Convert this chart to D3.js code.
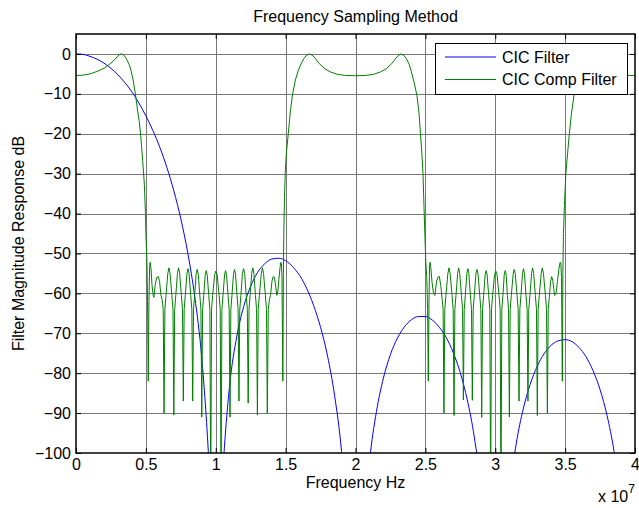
<!DOCTYPE html>
<html><head><meta charset="utf-8">
<script src="https://cdn.jsdelivr.net/npm/d3@7/dist/d3.min.js"></script>
<style>
body{margin:0;background:#fff}
svg{display:block}
text{font-family:"Liberation Sans",Arial,Helvetica,sans-serif;fill:#000}
</style>
</head><body>
<svg id="chart" width="639" height="508"></svg>
<script>
// ---- data ----
const chartTitle = "Frequency Sampling Method";
const xLabel = "Frequency Hz";
const yLabel = "Filter Magnitude Response dB";
const xTicks = [0, 0.5, 1, 1.5, 2, 2.5, 3, 3.5, 4];
const xTickLabels = ["0", "0.5", "1", "1.5", "2", "2.5", "3", "3.5", "4"];
const yTicks = [-100, -90, -80, -70, -60, -50, -40, -30, -20, -10, 0];
const seriesNames = ["CIC Filter", "CIC Comp Filter"];

// CIC Filter (x 1e7 Hz, dB)
const blueFreq = [0,0.05,0.1,0.15,0.2,0.25,0.3,0.35,0.4,0.45,0.5,0.55,0.6,0.65,0.7,0.75,0.8,0.85,0.9,0.95,
  1,1.05,1.1,1.15,1.2,1.25,1.3,1.35,1.4,1.45,1.5,1.55,1.6,1.65,1.7,1.75,1.8,1.85,1.9,1.95,
  2,2.05,2.1,2.15,2.2,2.25,2.3,2.35,2.4,2.45,2.5,2.55,2.6,2.65,2.7,2.75,2.8,2.85,2.9,2.95,
  3,3.05,3.1,3.15,3.2,3.25,3.3,3.35,3.4,3.45,3.5,3.55,3.6,3.65,3.7,3.75,3.8,3.85,3.9,3.95,4];
const blueDb = [0,-0.1,-0.6,-1.3,-2.3,-3.6,-5.2,-7.2,-9.5,-12.3,-15.5,-19.2,-23.4,-28.4,-34.3,-41.3,-49.9,-60.9,-76.2,-101.6,
  -140,-104.9,-82.8,-70.9,-63.3,-58.2,-54.7,-52.6,-51.4,-51.2,-51.8,-53.3,-55.5,-58.7,-63.0,-68.5,-75.7,-85.5,-99.6,-124,
  -140,-125.3,-102.3,-89.6,-81.2,-75.3,-71.2,-68.4,-66.6,-65.8,-65.8,-66.7,-68.5,-71.1,-74.9,-79.9,-86.7,-96.0,-109.7,-133.7,
  -140,-134.2,-110.8,-97.7,-89.0,-82.8,-78.3,-75.1,-73.0,-71.9,-71.6,-72.1,-73.6,-75.9,-79.4,-84.1,-90.6,-99.6,-113.0,-136.7,-140];

// CIC Comp Filter (x 1e7 Hz, dB)
const greenFreq = [0,0.05,0.1,0.15,0.2,0.25,0.28,0.3,0.313,0.325,0.337,0.35,0.365,0.38,0.395,0.41,0.425,0.44,0.453,0.463,0.47,0.477,0.489,0.497,0.502,0.507,0.512,
  0.517,0.522,0.527,0.531,0.536,0.544,0.552,0.558,0.566,0.578,0.589,0.598,0.608,0.616,0.624,
  0.630,0.636,0.644,0.657,0.665,0.673,0.686,0.694,
  0.700,0.706,0.714,0.726,0.734,0.742,0.754,0.762,
  0.768,0.774,0.782,0.794,0.801,0.809,0.821,0.829,
  0.835,0.841,0.849,0.860,0.867,0.875,0.886,0.894,
  0.900,0.906,0.914,0.925,0.932,0.939,0.950,0.958,
  0.964,0.970,0.978,0.992,1.001,1.010,1.024,1.032,
  1.038,1.044,1.052,1.063,1.070,1.077,1.088,1.096,
  1.102,1.108,1.116,1.127,1.134,1.141,1.152,1.160,
  1.166,1.172,1.180,1.191,1.199,1.207,1.218,1.226,
  1.232,1.238,1.246,1.257,1.265,1.273,1.284,1.292,
  1.298,1.304,1.312,1.326,1.334,1.342,1.355,1.363,
  1.369,1.376,1.384,1.392,1.402,1.411,1.420,1.430,1.437,1.444,1.452,1.460,1.466,1.470,1.474,
  1.480,1.484,1.487,1.492,1.497,1.505,1.519,1.535,1.55,1.57,1.59,1.61,1.63,1.65,1.67,1.69,1.71,1.74,1.78,1.82,1.87,1.93,
  2.00,2.07,2.13,2.18,2.22,2.26,2.29,2.31,2.325,2.345,2.365,2.385,2.40,2.42,2.44,2.455,2.465,2.475,2.483,2.49,2.497,2.503,2.510,2.516,
  2.521,2.526,2.530,2.534,2.539,2.547,2.558,2.568,2.580,2.592,2.600,2.610,2.620,2.627,
  2.633,2.639,2.647,2.661,2.669,2.677,2.691,2.699,
  2.705,2.711,2.719,2.731,2.738,2.746,2.758,2.766,
  2.772,2.778,2.786,2.797,2.804,2.811,2.822,2.830,
  2.836,2.842,2.850,2.862,2.869,2.877,2.889,2.897,
  2.903,2.909,2.917,2.928,2.935,2.942,2.953,2.961,
  2.967,2.973,2.981,2.995,3.004,3.013,3.027,3.035,
  3.041,3.047,3.055,3.064,3.071,3.078,3.087,3.095,
  3.101,3.107,3.115,3.128,3.135,3.143,3.156,3.164,
  3.170,3.176,3.184,3.195,3.202,3.209,3.220,3.228,
  3.234,3.240,3.248,3.260,3.267,3.275,3.287,3.295,
  3.301,3.307,3.315,3.329,3.337,3.345,3.359,3.367,
  3.373,3.379,3.387,3.396,3.404,3.413,3.424,3.435,3.445,3.455,3.464,3.469,3.474,
  3.480,3.484,3.488,3.495,3.505,3.53,3.545,3.565,3.59,3.62,3.65,3.67,3.69,3.72,3.76,3.80,3.85,3.90,3.95,4.00];
const greenDb = [-5.4,-5.3,-5.0,-4.4,-3.6,-2.3,-1.3,-0.5,-0.1,0,-0.2,-0.6,-1.5,-2.6,-4.3,-6.8,-10,-14,-17,-20.5,-23.5,-26.7,-32.6,-40,-47,-51,-62,
  -82,-62,-53,-52.2,-53.5,-58,-60.5,-61,-58,-56,-55.8,-57,-60.5,-61.5,-64,
  -90,-64,-60.5,-55,-53.6,-55,-60.5,-64,
  -90.5,-64,-60.5,-55,-53.6,-55,-60.5,-64,
  -87,-64,-60.5,-55,-53.8,-55,-60.5,-64,
  -87,-64,-60.5,-55,-54,-55.2,-60.5,-64,
  -91,-64,-60.5,-55.2,-54.3,-55.4,-60.5,-64,
  -110,-64,-60.5,-55.3,-54.4,-55.3,-60.5,-64,
  -110,-64,-60.5,-55.4,-54.3,-55.2,-60.5,-64,
  -91,-64,-60.5,-55.2,-54,-55,-60.5,-64,
  -87,-64,-60.5,-55,-53.8,-55,-60.5,-64,
  -87.5,-64,-60.5,-55,-53.6,-55,-60.5,-64,
  -90.5,-64,-60.5,-55,-53.6,-55,-60.5,-64,
  -90,-64,-61.5,-60.5,-57,-55.8,-56,-58.5,-60.5,-59.5,-56.5,-53.5,-52.2,-52.5,-56,
  -82,-55,-45,-36,-30,-25,-20,-14,-10,-6.5,-4.2,-2.5,-1.2,-0.3,0,-0.3,-1.0,-2.4,-3.7,-4.5,-5.1,-5.4,
  -5.45,-5.4,-5.1,-4.5,-3.7,-2.4,-1.0,-0.3,0,-0.3,-1.2,-2.7,-4.5,-7.2,-10.5,-15,-20,-25,-30,-38,-46,-52,-56,-64,
  -82,-62,-53,-52.2,-53.5,-57,-60,-60.5,-57,-55.8,-55.8,-58,-61.5,-64,
  -90,-64,-60.5,-55,-53.6,-55,-60.5,-64,
  -90.6,-64,-60.5,-55,-53.6,-55,-60.5,-64,
  -86.7,-64,-60.5,-55,-53.8,-55,-60.5,-64,
  -86.8,-64,-60.5,-55,-54,-55.2,-60.5,-64,
  -91.1,-64,-60.5,-55.2,-54.3,-55.4,-60.5,-64,
  -110,-64,-60.5,-55.3,-54.4,-55.3,-60.5,-64,
  -110,-64,-60.5,-55.4,-54.3,-55.2,-60.5,-64,
  -91,-64,-60.5,-55.2,-54,-55,-60.5,-64,
  -87,-64,-60.5,-55,-53.8,-55,-60.5,-64,
  -87,-64,-60.5,-55,-53.6,-55,-60.5,-64,
  -90.6,-64,-60.5,-55,-53.6,-55,-60.5,-64,
  -90,-64,-61,-57,-55.8,-57,-60.5,-60,-57,-54,-52.2,-52.3,-56,
  -82,-55,-45,-38,-30,-20,-15,-10,-6,-2.8,-0.6,0,-0.3,-1.2,-2.6,-3.7,-4.6,-5.1,-5.35,-5.45];

// ---- drawing ----
const svg = d3.select("#chart");
const W = 639, H = 508;
const L = 76, R = 635, T = 34, B = 453;
const x = d3.scaleLinear().domain([0, 4]).range([L, R]);
const y = d3.scaleLinear().domain([-100, 5]).range([B, T]);

svg.append("rect").attr("width", W).attr("height", H).attr("fill", "#fff");

svg.append("defs").append("clipPath").attr("id", "plotclip")
  .append("rect").attr("x", L).attr("y", T).attr("width", R - L).attr("height", B - T);

// grid
const grid = svg.append("g").attr("stroke", "#787878").attr("stroke-width", 1);
grid.selectAll("line.gx").data(xTicks.slice(1, -1)).join("line")
  .attr("x1", d => Math.round(x(d)) + 0.5).attr("x2", d => Math.round(x(d)) + 0.5)
  .attr("y1", T).attr("y2", B);
grid.selectAll("line.gy").data(yTicks.slice(1)).join("line")
  .attr("y1", d => Math.round(y(d)) + 0.5).attr("y2", d => Math.round(y(d)) + 0.5)
  .attr("x1", L).attr("x2", R);

// curves
const plot = svg.append("g").attr("clip-path", "url(#plotclip)");
const blueData = blueFreq.map((f, i) => [f, blueDb[i]]);
const greenData = greenFreq.map((f, i) => [f, greenDb[i]]);
plot.append("path").datum(blueData)
  .attr("fill", "none").attr("stroke", "#0000ff").attr("stroke-width", 1)
  .attr("d", d3.line().x(d => x(d[0])).y(d => y(d[1])).curve(d3.curveMonotoneX));
plot.append("path").datum(greenData)
  .attr("fill", "none").attr("stroke", "#008000").attr("stroke-width", 1)
  .attr("d", d3.line().x(d => x(d[0])).y(d => y(d[1])));

// axes with inward ticks
const fs = "16px";
const axB = svg.append("g").attr("transform", `translate(0,${B})`)
  .call(d3.axisBottom(x).tickValues(xTicks).tickFormat((d, i) => xTickLabels[i]).tickSizeInner(-5).tickSizeOuter(0).tickPadding(6));
const axT = svg.append("g").attr("transform", `translate(0,${T})`)
  .call(d3.axisTop(x).tickValues(xTicks).tickFormat("").tickSizeInner(-5).tickSizeOuter(0));
const axL = svg.append("g").attr("transform", `translate(${L},0)`)
  .call(d3.axisLeft(y).tickValues(yTicks).tickFormat(d3.format("d")).tickSizeInner(-5).tickSizeOuter(0).tickPadding(5));
const axR = svg.append("g").attr("transform", `translate(${R},0)`)
  .call(d3.axisRight(y).tickValues(yTicks).tickFormat("").tickSizeInner(-5).tickSizeOuter(0));
[axB, axT, axL, axR].forEach(a => {
  a.select(".domain").remove();
  a.selectAll(".tick line").attr("stroke", "#000").attr("stroke-width", 1);
  a.selectAll("text").attr("font-size", fs).attr("font-family", '"Liberation Sans",Arial,sans-serif').attr("fill", "#000");
});

// box
svg.append("rect").attr("x", L).attr("y", T).attr("width", R - L).attr("height", B - T)
  .attr("fill", "none").attr("stroke", "#000").attr("stroke-width", 1.5);

// legend
const lg = svg.append("g");
lg.append("rect").attr("x", 435.5).attr("y", 43.5).attr("width", 192).attr("height", 51)
  .attr("fill", "#fff").attr("stroke", "#000").attr("stroke-width", 1);
const legColors = ["#0000ff", "#008000"];
seriesNames.forEach((name, i) => {
  const yy = 57 + i * 22.5;
  lg.append("line").attr("x1", 445).attr("x2", 496).attr("y1", yy).attr("y2", yy)
    .attr("stroke", legColors[i]).attr("stroke-width", 1);
  lg.append("text").attr("x", 502).attr("y", yy).attr("dy", "0.35em").attr("font-size", fs).text(name);
});

// titles
svg.append("text").attr("x", (L + R) / 2).attr("y", 22).attr("text-anchor", "middle").attr("font-size", fs).text(chartTitle);
svg.append("text").attr("x", (L + R) / 2).attr("y", 488).attr("text-anchor", "middle").attr("font-size", fs).text(xLabel);
svg.append("text").attr("transform", `translate(24,${(T + B) / 2}) rotate(-90)`).attr("text-anchor", "middle").attr("font-size", fs).text(yLabel);
const ex = svg.append("text").attr("x", 598).attr("y", 502).attr("font-size", fs);
ex.append("tspan").text("x 10");
ex.append("tspan").attr("dy", -9).attr("font-size", "12px").text("7");
</script>
</body></html>
